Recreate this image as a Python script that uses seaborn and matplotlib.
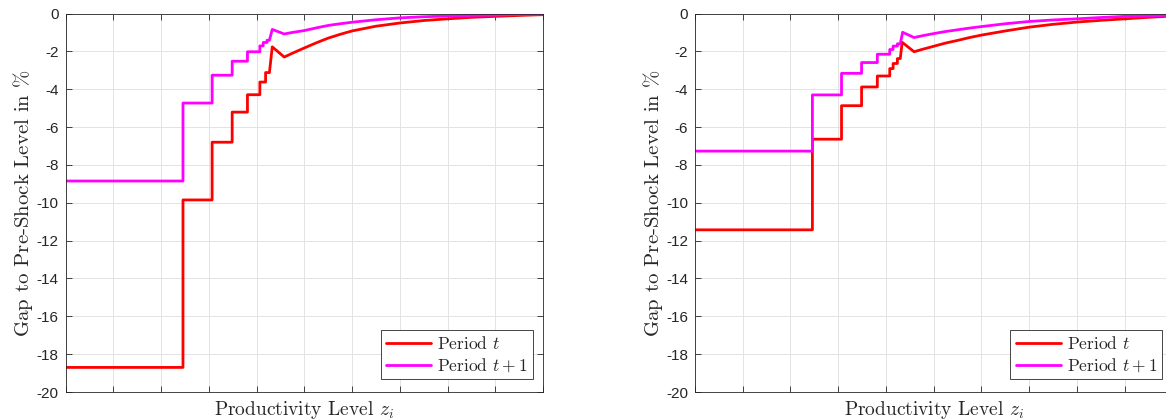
import numpy as np
import pandas as pd
import matplotlib.pyplot as plt
import seaborn as sns

# productivity grid runs over 10 grid cells (x axis has no tick labels)
# left panel, period t
left_x_t = [0, 2.46, 2.46, 3.07, 3.07, 3.49, 3.49, 3.81, 3.81, 4.07, 4.07, 4.19, 4.19, 4.27,
            4.33, 4.58, 4.75, 5.0, 5.25, 5.5, 5.75, 6.0, 6.5, 7.0, 7.5, 8.0, 8.5, 9.0, 9.5, 10.0]
left_gap_t = [-18.7, -18.7, -9.85, -9.85, -6.8, -6.8, -5.21, -5.21, -4.29, -4.29, -3.62, -3.62, -3.12, -3.12,
              -1.76, -2.3, -2.1, -1.82, -1.55, -1.3, -1.1, -0.92, -0.67, -0.50, -0.37, -0.28, -0.20, -0.15, -0.10, -0.06]
# left panel, period t+1
left_x_t1 = [0, 2.46, 2.46, 3.07, 3.07, 3.49, 3.49, 3.81, 3.81, 4.07, 4.07, 4.14, 4.14, 4.22, 4.22, 4.27,
             4.33, 4.58, 4.75, 5.0, 5.25, 5.5, 5.75, 6.0, 6.5, 7.0, 7.5, 8.0, 8.5, 9.0, 9.5, 10.0]
left_gap_t1 = [-8.85, -8.85, -4.73, -4.73, -3.26, -3.26, -2.52, -2.52, -2.02, -2.02, -1.71, -1.71, -1.53, -1.53, -1.41, -1.41,
               -0.84, -1.08, -1.0, -0.9, -0.76, -0.63, -0.54, -0.46, -0.33, -0.23, -0.17, -0.13, -0.10, -0.08, -0.05, -0.03]

# right panel, period t
right_x_t = [0, 2.46, 2.46, 3.07, 3.07, 3.49, 3.49, 3.82, 3.82, 4.08, 4.08, 4.15, 4.15, 4.24, 4.24, 4.30,
             4.34, 4.59, 4.75, 5.0, 5.25, 5.5, 5.75, 6.0, 6.5, 7.0, 7.5, 8.0, 8.5, 9.0, 9.5, 10.0]
right_gap_t = [-11.43, -11.43, -6.64, -6.64, -4.87, -4.87, -3.88, -3.88, -3.3, -3.3, -2.91, -2.91, -2.64, -2.64, -2.38, -2.38,
               -1.52, -2.02, -1.9, -1.73, -1.56, -1.42, -1.27, -1.14, -0.92, -0.72, -0.57, -0.45, -0.36, -0.28, -0.20, -0.13]
# right panel, period t+1
right_x_t1 = [0, 2.46, 2.46, 3.07, 3.07, 3.49, 3.49, 3.82, 3.82, 4.08, 4.08, 4.15, 4.15, 4.24, 4.24, 4.30,
              4.35, 4.59, 4.75, 5.0, 5.25, 5.5, 5.75, 6.0, 6.5, 7.0, 7.5, 8.0, 8.5, 9.0, 9.5, 10.0]
right_gap_t1 = [-7.27, -7.27, -4.3, -4.3, -3.16, -3.16, -2.59, -2.59, -2.15, -2.15, -1.9, -1.9, -1.72, -1.72, -1.6, -1.6,
                -0.99, -1.27, -1.18, -1.06, -0.95, -0.86, -0.77, -0.69, -0.54, -0.42, -0.34, -0.28, -0.21, -0.15, -0.12, -0.09]

labels = ['Period $t$', 'Period $t+1$']
colors = ['#ff0000', '#ff00ff']
y_ticks = np.arange(-20, 1, 2)

sns.set_style('ticks')
plt.rcParams['font.family'] = ['Liberation Sans', 'DejaVu Sans']
plt.rcParams['mathtext.fontset'] = 'cm'

fig = plt.figure(figsize=(11.66, 4.19), dpi=100)
ax_left = fig.add_axes([0.0562, 0.0644, 0.4095, 0.9033])
ax_right = fig.add_axes([0.596, 0.0644, 0.4095, 0.9033])

panels = [
    (ax_left, [(left_x_t, left_gap_t), (left_x_t1, left_gap_t1)]),
    (ax_right, [(right_x_t, right_gap_t), (right_x_t1, right_gap_t1)]),
]

for ax, series in panels:
    for (xs, ys), lab, col in zip(series, labels, colors):
        sns.lineplot(x=xs, y=ys, ax=ax, color=col, linewidth=2.0, label=lab,
                     estimator=None, sort=False)

    ax.set_xlim(0, 10)
    ax.set_ylim(-20, 0)
    ax.set_xticks(np.arange(0, 11, 1))
    ax.set_xticklabels([])
    ax.set_yticks(y_ticks)
    ax.set_yticklabels([str(v) for v in y_ticks], fontsize=11, color='#262626')
    ax.grid(True, color='#e3e3e3', linewidth=0.7)
    ax.set_axisbelow(True)
    ax.tick_params(direction='in', length=4, width=0.6, top=True, right=True,
                   color='#262626', pad=5)
    for sp in ax.spines.values():
        sp.set_color('#262626')
        sp.set_linewidth(0.6)

    ax.set_xlabel('Productivity Level $z_i$', family='cmr10', fontsize=14,
                  color='#262626', labelpad=0)
    ax.set_ylabel('Gap to Pre-Shock Level in $\\%$', family='cmr10', fontsize=15,
                  color='#262626', labelpad=1)

    leg = ax.legend(loc='lower right', bbox_to_anchor=(0.979, 0.034),
                    prop={'family': 'cmr10', 'size': 12.5}, frameon=True,
                    fancybox=False, framealpha=1, edgecolor='#262626',
                    handlelength=2.6, handletextpad=0.35, borderpad=0.3,
                    labelspacing=0.25, borderaxespad=0)
    leg.get_frame().set_linewidth(0.6)

fig.savefig('out.png', dpi=100)
